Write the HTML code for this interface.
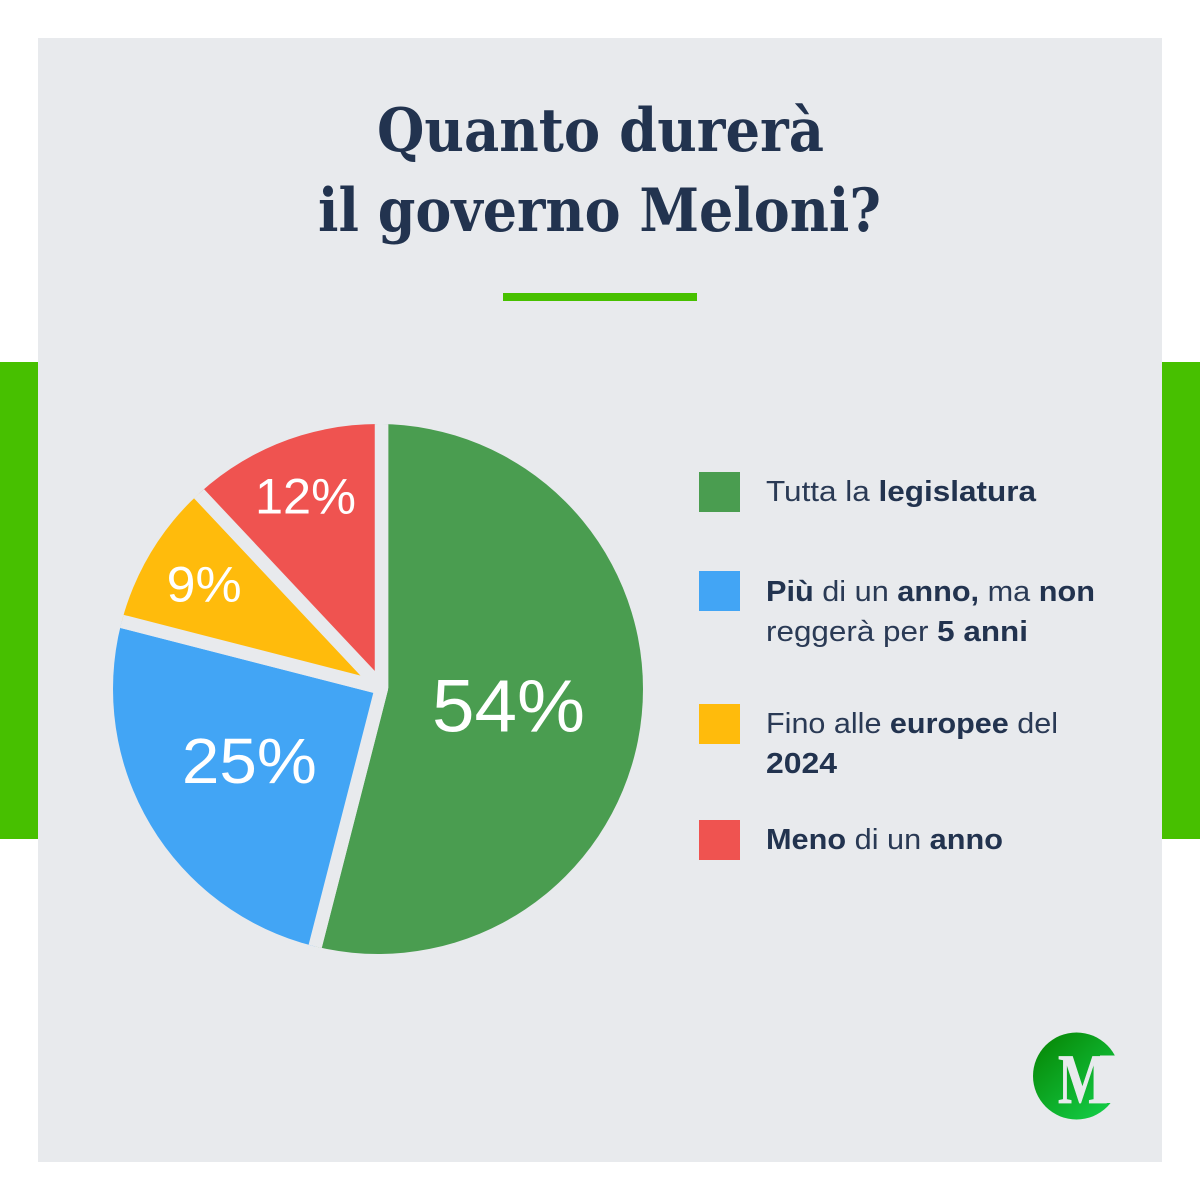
<!DOCTYPE html>
<html lang="it">
<head>
<meta charset="utf-8">
<title>Quanto durerà il governo Meloni?</title>
<style>
html,body{margin:0;padding:0;background:#fff}
svg{display:block}
.title{font-family:"DejaVu Serif","Liberation Serif",serif;font-weight:700;font-size:60px;fill:#22334f}
.lg{font-family:"Liberation Sans","DejaVu Sans",sans-serif;font-size:29px;fill:#2a3a55}
.lg .b{font-weight:700;fill:#22334f}
.pct{font-family:"Liberation Sans","DejaVu Sans",sans-serif;fill:#fff;text-anchor:middle}
</style>
</head>
<body>
<svg id="chart" xmlns="http://www.w3.org/2000/svg" width="1200" height="1200" viewBox="0 0 1200 1200">
  <defs>
    <clipPath id="pie-clip"><circle cx="378" cy="689" r="265"/></clipPath>
    <linearGradient id="logo-grad" x1="0.1" y1="0.1" x2="0.85" y2="0.9">
      <stop offset="0" stop-color="#078a08"/>
      <stop offset="1" stop-color="#13cb45"/>
    </linearGradient>
  </defs>
  <rect x="0" y="0" width="1200" height="1200" fill="#ffffff"/>
  <rect x="0" y="362" width="38" height="477" fill="#47c000"/>
  <rect x="1162" y="362" width="38" height="477" fill="#47c000"/>
  <rect x="38" y="38" width="1124" height="1124" fill="#e8eaed"/>

  <text class="title" x="377" y="151" textLength="447" lengthAdjust="spacingAndGlyphs">Quanto durerà</text>
  <text class="title" x="318" y="231" textLength="563" lengthAdjust="spacingAndGlyphs">il governo Meloni?</text>
  <rect x="503" y="293" width="194" height="8" fill="#47c000"/>

  <g id="pie" clip-path="url(#pie-clip)"></g>
  <g id="pie-labels"></g>

  <g>
    <g>
      <rect x="699" y="472" width="41" height="40" fill="#4a9d50"/>
      <text class="lg" x="766" y="501" textLength="270" lengthAdjust="spacingAndGlyphs">Tutta la <tspan class="b">legislatura</tspan></text>
    </g>
    <g>
      <rect x="699" y="571" width="41" height="40" fill="#42a5f5"/>
      <text class="lg" x="766" y="601" textLength="329" lengthAdjust="spacingAndGlyphs"><tspan class="b">Più</tspan> di un <tspan class="b">anno,</tspan> ma <tspan class="b">non</tspan></text>
      <text class="lg" x="766" y="641" textLength="262" lengthAdjust="spacingAndGlyphs">reggerà per <tspan class="b">5 anni</tspan></text>
    </g>
    <g>
      <rect x="699" y="704" width="41" height="40" fill="#ffbb0c"/>
      <text class="lg" x="766" y="733" textLength="292" lengthAdjust="spacingAndGlyphs">Fino alle <tspan class="b">europee</tspan> del</text>
      <text class="lg" x="766" y="773" textLength="71" lengthAdjust="spacingAndGlyphs"><tspan class="b">2024</tspan></text>
    </g>
    <g>
      <rect x="699" y="820" width="41" height="40" fill="#ef5350"/>
      <text class="lg" x="766" y="849" textLength="237" lengthAdjust="spacingAndGlyphs"><tspan class="b">Meno</tspan> di un <tspan class="b">anno</tspan></text>
    </g>
  </g>

  <g>
    <circle cx="1076.5" cy="1076" r="43.5" fill="url(#logo-grad)"/>
    <rect x="1100" y="1055.5" width="24" height="47.5" fill="#e8eaed"/>
    <text x="1058" y="1103" font-family="'Liberation Serif',serif" font-weight="700" font-size="71" fill="#e8eaed" stroke="#e8eaed" stroke-width="0.7" textLength="50" lengthAdjust="spacingAndGlyphs">M</text>
  </g>
</svg>
<script>
const categories = ['Tutta la legislatura', 'Più di un anno, ma non reggerà per 5 anni', 'Fino alle europee del 2024', 'Meno di un anno'];
const seriesValues = [54, 25, 9, 12];
const valueLabels = ['54%', '25%', '9%', '12%'];
const sliceColors = ['#4a9d50', '#42a5f5', '#ffbb0c', '#ef5350'];
const labelRadii = [128, 153.5, 206, 206.5];
const labelShiftY = [0, -7, 0, -1];
const labelFontSizes = [74, 64, 50, 50];
const labelWidths = [153, 135, 75, 101];

const svgNS = 'http://www.w3.org/2000/svg';
const apexX = 381.5;
const apexY = 688;
const wedgeRadius = 420;
const total = seriesValues.reduce(function (a, b) { return a + b; }, 0);

function angleOf(cumulative) {
  return cumulative / total * 2 * Math.PI;
}
function polarX(angle, radius) {
  return apexX + Math.sin(angle) * radius;
}
function polarY(angle, radius) {
  return apexY - Math.cos(angle) * radius;
}

const pieGroup = document.getElementById('pie');
const labelGroup = document.getElementById('pie-labels');
let cumulative = 0;
seriesValues.forEach(function (value, i) {
  const start = angleOf(cumulative);
  const end = angleOf(cumulative + value);
  const mid = (start + end) / 2;
  const large = end - start > Math.PI ? 1 : 0;
  const slice = document.createElementNS(svgNS, 'path');
  
  
  slice.setAttribute('d', 'M' + apexX + ' ' + apexY +
    'L' + polarX(start, wedgeRadius) + ' ' + polarY(start, wedgeRadius) +
    'A' + wedgeRadius + ' ' + wedgeRadius + ' 0 ' + large + ' 1 ' + polarX(end, wedgeRadius) + ' ' + polarY(end, wedgeRadius) + 'Z');
  slice.setAttribute('fill', sliceColors[i]);
  slice.setAttribute('stroke', '#e8eaed');
  slice.setAttribute('stroke-width', '13.5');
  slice.setAttribute('stroke-linejoin', 'bevel');
  pieGroup.appendChild(slice);

  const label = document.createElementNS(svgNS, 'text');
  
  
  label.setAttribute('class', 'pct');
  label.setAttribute('x', polarX(mid, labelRadii[i]));
  label.setAttribute('y', polarY(mid, labelRadii[i]) + labelFontSizes[i] * 0.37 + labelShiftY[i]);
  label.setAttribute('font-size', labelFontSizes[i]);
  label.setAttribute('textLength', labelWidths[i]);
  label.setAttribute('lengthAdjust', 'spacingAndGlyphs');
  label.textContent = valueLabels[i];
  labelGroup.appendChild(label);

  cumulative += value;
});
</script>
</body>
</html>
